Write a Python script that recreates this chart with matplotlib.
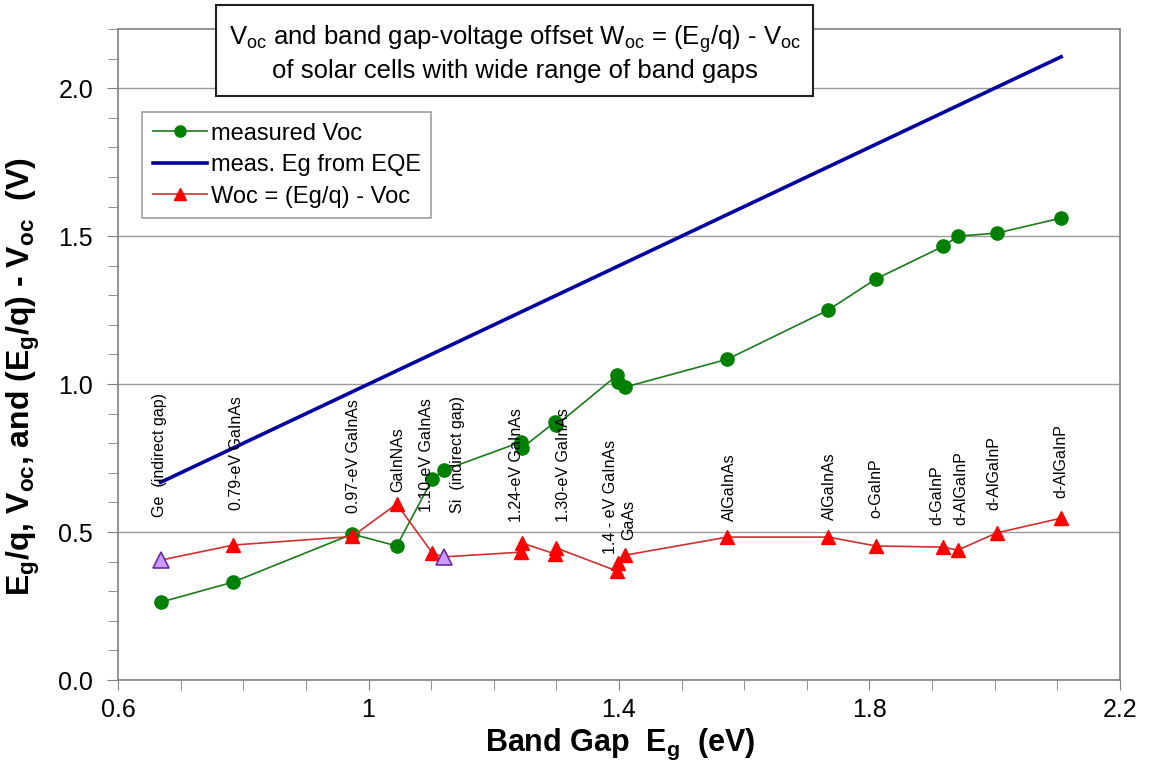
import matplotlib
matplotlib.use("Agg")
import matplotlib.pyplot as plt
from matplotlib.ticker import MultipleLocator
from matplotlib.lines import Line2D

plt.rcParams['font.family'] = ['Liberation Sans', 'DejaVu Sans']
plt.rcParams['mathtext.fontset'] = 'custom'
plt.rcParams['mathtext.rm'] = 'Liberation Sans'
plt.rcParams['mathtext.it'] = 'Liberation Sans:italic'
plt.rcParams['mathtext.bf'] = 'Liberation Sans:bold'

# ---- data ----
eg = [0.668, 0.784, 0.974, 1.045, 1.102, 1.120, 1.243, 1.245, 1.298, 1.300,
      1.397, 1.398, 1.410, 1.573, 1.734, 1.810, 1.918, 1.941, 2.003, 2.106]
voc = [0.263, 0.331, 0.493, 0.453, 0.679, 0.709, 0.804, 0.784, 0.872, 0.861,
       1.030, 1.007, 0.990, 1.084, 1.250, 1.355, 1.466, 1.500, 1.510, 1.561]
woc = [0.405, 0.456, 0.485, 0.595, 0.429, 0.416, 0.432, 0.463, 0.426, 0.446,
       0.368, 0.395, 0.422, 0.483, 0.483, 0.453, 0.449, 0.439, 0.497, 0.547]
indirect = [True, False, False, False, False, True, False, False, False, False,
            False, False, False, False, False, False, False, False, False, False]

cell_labels = ["Ge  (indirect gap)", "0.79-eV GaInAs", "0.97-eV GaInAs", "GaInNAs",
               "1.10-eV GaInAs", "Si  (indirect gap)", "1.24-eV GaInAs", "1.30-eV GaInAs",
               "1.4 - eV GaInAs", "GaAs", "AlGaInAs", "AlGaInAs", "o-GaInP", "d-GaInP",
               "d-AlGaInP", "d-AlGaInP", "d-AlGaInP"]
label_x = [0.667, 0.790, 0.976, 1.046, 1.093, 1.142, 1.237, 1.312,
           1.387, 1.416, 1.576, 1.736, 1.810, 1.907, 1.946, 1.999, 2.106]
label_y = [0.551, 0.574, 0.564, 0.635, 0.568, 0.564, 0.534, 0.534,
           0.426, 0.473, 0.537, 0.540, 0.547, 0.524, 0.524, 0.574, 0.615]

x_ticks = [0.6, 1.0, 1.4, 1.8, 2.2]
x_ticklabels = ["0.6", "1", "1.4", "1.8", "2.2"]
y_ticks = [0.0, 0.5, 1.0, 1.5, 2.0]
y_ticklabels = ["0.0", "0.5", "1.0", "1.5", "2.0"]

fig = plt.figure(figsize=(11.57, 7.73), dpi=100)
ax = fig.add_axes([0.102, 0.1203, 0.866, 0.8422])

ax.set_xlim(0.6, 2.2)
ax.set_ylim(0.0, 2.2)

ax.set_yticks(y_ticks)
ax.set_yticklabels(y_ticklabels)
ax.set_xticks(x_ticks)
ax.set_xticklabels(x_ticklabels)
ax.xaxis.set_minor_locator(MultipleLocator(0.1))
ax.yaxis.set_minor_locator(MultipleLocator(0.1))
ax.yaxis.grid(True, which='major', color='#9a9a9a', lw=1.0)
ax.set_axisbelow(True)

for s in ax.spines.values():
    s.set_color('#808080')
    s.set_linewidth(1.2)

ax.tick_params(axis='both', which='both', direction='out', colors='#808080',
               labelcolor='black', labelsize=18)
ax.tick_params(axis='x', which='major', length=7, pad=6)
ax.tick_params(axis='x', which='minor', length=7)
ax.tick_params(axis='y', which='major', length=8, pad=10)
ax.tick_params(axis='y', which='minor', length=7)

# series
ax.plot(eg, voc, color='#1a7a1a', lw=1.2, marker='o', ms=9.5,
        mfc='#008000', mec='#008000', label='measured Voc', zorder=4)
ax.plot(eg, eg, color='#0000a0', lw=2.6, label='meas. Eg from EQE', zorder=3)
ax.plot(eg, woc, color='#d03030', lw=1.2, label='Woc = (Eg/q) - Voc', zorder=4)
ax.plot([e for e, i in zip(eg, indirect) if not i],
        [w for w, i in zip(woc, indirect) if not i],
        ls='none', marker='^', ms=9.5, mfc='#ff0000', mec='#ff0000', zorder=5)
ax.plot([e for e, i in zip(eg, indirect) if i],
        [w for w, i in zip(woc, indirect) if i],
        ls='none', marker='^', ms=11, mfc='#cc99ff', mec='#6a2c9a', mew=1.2, zorder=5)

handles = [
    Line2D([], [], color='#1a7a1a', lw=1.2, marker='o', ms=8, mfc='#008000', mec='#008000'),
    Line2D([], [], color='#0000a0', lw=2.6),
    Line2D([], [], color='#d03030', lw=1.2, marker='^', ms=9, mfc='#ff0000', mec='#ff0000'),
]
leg = ax.legend(handles, ['measured Voc', 'meas. Eg from EQE', 'Woc = (Eg/q) - Voc'],
                loc='upper left', bbox_to_anchor=(0.024, 0.8725), fontsize=17,
                frameon=True, fancybox=False, framealpha=1, edgecolor='#a0a0a0',
                handlelength=2.3, handletextpad=0.15, borderpad=0.45, labelspacing=0.4,
                borderaxespad=0)
leg.get_frame().set_linewidth(1.2)

for t, x, y in zip(cell_labels, label_x, label_y):
    ax.text(x, y, t, rotation=90, ha='center', va='bottom', fontsize=11.5, zorder=6)

ax.text(0.3957, 0.963,
        "V$_\\mathregular{oc}$ and band gap-voltage offset W$_\\mathregular{oc}$ = (E$_\\mathregular{g}$/q) - V$_\\mathregular{oc}$\n"
        "of solar cells with wide range of band gaps",
        transform=ax.transAxes, ha='center', va='center', fontsize=18.5,
        linespacing=1.2, zorder=10, clip_on=False,
        bbox=dict(boxstyle='square,pad=0.5', fc='white', ec='#202020', lw=1.5))

ax.set_xlabel("Band Gap  E$_\\mathbf{g}$  (eV)", fontsize=22, fontweight='bold')
ax.xaxis.set_label_coords(0.536, 0.060, transform=fig.transFigure)
ax.set_ylabel("E$_\\mathbf{g}$/q, V$_\\mathbf{oc}$, and (E$_\\mathbf{g}$/q) - V$_\\mathbf{oc}$  (V)",
              fontsize=23, fontweight='bold')
ax.yaxis.set_label_coords(0.036, 0.512, transform=fig.transFigure)

fig.savefig("out.png", dpi=100)
